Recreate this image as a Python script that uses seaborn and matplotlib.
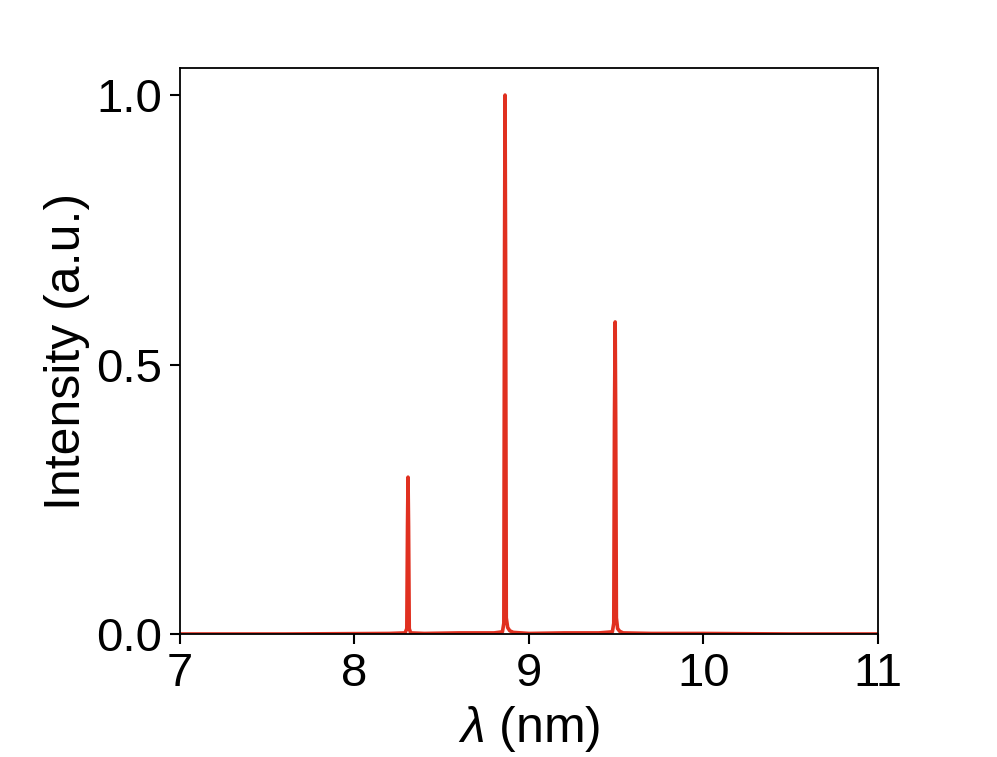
import matplotlib
matplotlib.use("Agg")
import matplotlib.pyplot as plt
import seaborn as sns
import pandas as pd

# Spectrum samples
wavelength = [7.00, 7.60, 8.20, 8.290, 8.300, 8.304, 8.307, 8.310, 8.314, 8.322,
              8.40, 8.60, 8.80, 8.848, 8.856, 8.860, 8.863, 8.866, 8.870, 8.878,
              8.890, 8.910, 9.00, 9.20, 9.40, 9.478, 9.486, 9.490, 9.494, 9.497,
              9.501, 9.508, 9.520, 9.540, 9.70, 10.00, 10.50, 11.00]
intensity = [0.000, 0.000, 0.001, 0.002, 0.010, 0.200, 0.291, 0.200, 0.010, 0.002,
             0.001, 0.002, 0.002, 0.004, 0.020, 0.700, 1.000, 0.700, 0.030, 0.012,
             0.006, 0.003, 0.001, 0.002, 0.002, 0.004, 0.020, 0.400, 0.579, 0.400,
             0.030, 0.010, 0.005, 0.002, 0.001, 0.001, 0.000, 0.000]

xticks = [7, 8, 9, 10, 11]
yticks = [0.0, 0.5, 1.0]

df = pd.DataFrame({"wavelength": wavelength, "intensity": intensity})

sns.set_theme(style="ticks")
plt.rcParams["font.family"] = ["Liberation Sans", "DejaVu Sans"]
plt.rcParams["mathtext.fontset"] = "custom"
plt.rcParams["mathtext.it"] = "Liberation Sans:italic"
plt.rcParams["mathtext.rm"] = "Liberation Sans"
plt.rcParams["text.color"] = "black"
plt.rcParams["axes.labelcolor"] = "black"
plt.rcParams["xtick.color"] = "black"
plt.rcParams["ytick.color"] = "black"

fig = plt.figure(figsize=(9.97, 7.57), dpi=100)
ax = fig.add_axes([0.1805, 0.1625, 0.7001, 0.7475])

sns.lineplot(data=df, x="wavelength", y="intensity", ax=ax,
             color="#e03020", linewidth=2.6, estimator=None, sort=False)

ax.set_xlim(7, 11)
ax.set_ylim(0, 1.05)
ax.set_xticks(xticks)
ax.set_xticklabels([str(t) for t in xticks])
ax.set_yticks(yticks)
ax.set_yticklabels([f"{t:.1f}" for t in yticks])
ax.set_xlabel(r"$\lambda$ (nm)", fontsize=36, labelpad=6)
ax.set_ylabel("Intensity (a.u.)", fontsize=36, labelpad=4)
ax.tick_params(axis="both", labelsize=34, length=7, width=1.5, direction="out", pad=6,
               colors="black")
for s in ax.spines.values():
    s.set_linewidth(1.3)
    s.set_color("black")

fig.savefig("out.png", dpi=100)
